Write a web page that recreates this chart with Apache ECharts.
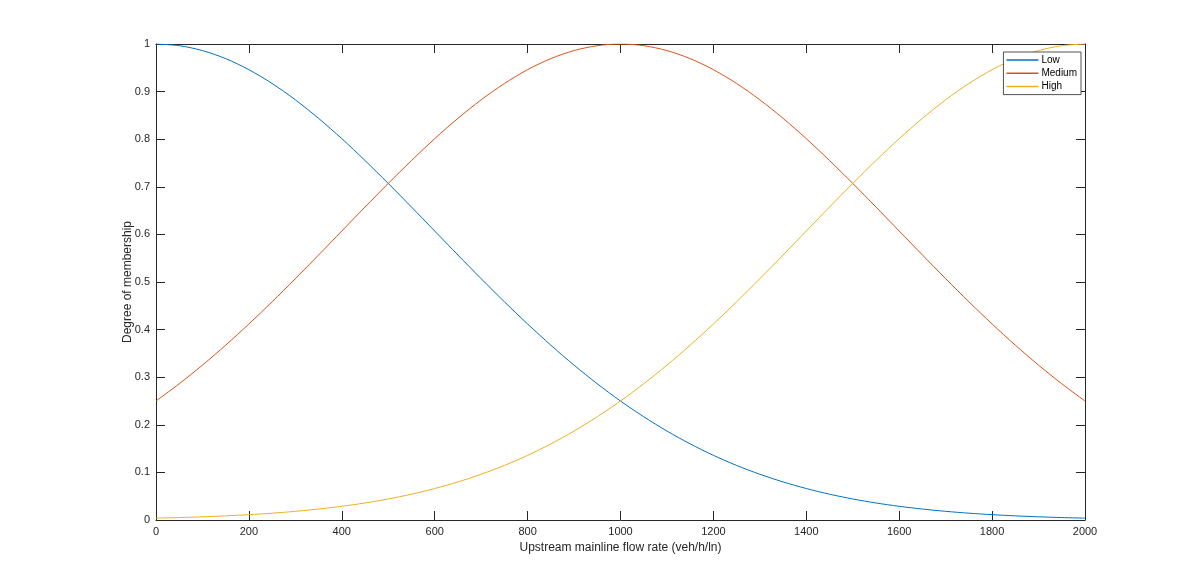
<!DOCTYPE html>
<html>
<head>
<meta charset="utf-8">
<script src="https://cdn.jsdelivr.net/npm/echarts@6/dist/echarts.min.js"></script>
<style>
html,body{margin:0;padding:0;background:#fff;}
#chart{width:1200px;height:584px;}
</style>
</head>
<body>
<div id="chart"></div>
<script>
var flowRate = [0,50,100,150,200,250,300,350,400,450,500,550,600,650,700,750,800,850,900,950,1000,
  1050,1100,1150,1200,1250,1300,1350,1400,1450,1500,1550,1600,1650,1700,1750,1800,1850,1900,1950,2000];
var lowValues = [1.0000,0.9965,0.9862,0.9693,0.9461,0.9170,0.8827,0.8438,0.8011,0.7552,0.7071,0.6575,0.6071,0.5567,0.5070,0.4585,0.4118,0.3673,0.3253,0.2862,0.2500,
  0.2169,0.1869,0.1599,0.1358,0.1146,0.0961,0.0800,0.0661,0.0542,0.0442,0.0358,0.0288,0.0230,0.0182,0.0143,0.0112,0.0087,0.0067,0.0051,0.0039];
var mediumValues = [0.2500,0.2862,0.3253,0.3673,0.4118,0.4585,0.5070,0.5567,0.6071,0.6575,0.7071,0.7552,0.8011,0.8438,0.8827,0.9170,0.9461,0.9693,0.9862,0.9965,1.0000,
  0.9965,0.9862,0.9693,0.9461,0.9170,0.8827,0.8438,0.8011,0.7552,0.7071,0.6575,0.6071,0.5567,0.5070,0.4585,0.4118,0.3673,0.3253,0.2862,0.2500];
var highValues = [0.0039,0.0051,0.0067,0.0087,0.0112,0.0143,0.0182,0.0230,0.0288,0.0358,0.0442,0.0542,0.0661,0.0800,0.0961,0.1146,0.1358,0.1599,0.1869,0.2169,0.2500,
  0.2862,0.3253,0.3673,0.4118,0.4585,0.5070,0.5567,0.6071,0.6575,0.7071,0.7552,0.8011,0.8438,0.8827,0.9170,0.9461,0.9693,0.9862,0.9965,1.0000];
var seriesNames = ['Low','Medium','High'];
var seriesColors = ['#0072BD','#D95319','#EDB120'];
var xTitle = 'Upstream mainline flow rate (veh/h/ln)';
var yTitle = 'Degree of membership';

function pairs(ys){ return flowRate.map(function(x,i){ return [x, ys[i]]; }); }
var allValues = [lowValues, mediumValues, highValues];

var axisCol = '#262626';
var font = 'Liberation Sans, Arial, Helvetica, sans-serif';

function xAx(pos, labels){
  return {
    type:'value', position:pos, min:0, max:2000, interval:200,
    name: labels ? xTitle : '', nameLocation:'middle', nameGap:22, nameMoveOverlap:false,
    nameTextStyle:{color:axisCol, fontSize:12, fontFamily:font},
    axisLine:{show:true, onZero:false, lineStyle:{color:axisCol, width:1}},
    axisTick:{show:true, inside:true, length:9, lineStyle:{color:axisCol, width:1}},
    axisLabel:{show:labels, color:axisCol, fontSize:11, fontFamily:font, margin:6,
      formatter:function(v){ return String(v); }},
    splitLine:{show:false}
  };
}
function yAx(pos, labels){
  return {
    type:'value', position:pos, min:0, max:1, interval:0.1,
    name: labels ? yTitle : '', nameLocation:'middle', nameGap:22, nameMoveOverlap:false,
    nameTextStyle:{color:axisCol, fontSize:12, fontFamily:font},
    axisLine:{show:true, onZero:false, lineStyle:{color:axisCol, width:1}},
    axisTick:{show:true, inside:true, length:9, lineStyle:{color:axisCol, width:1}},
    axisLabel:{show:labels, color:axisCol, fontSize:11, fontFamily:font, margin:6,
      formatter:function(v){ return String(Math.round(v*10)/10); }},
    splitLine:{show:false}
  };
}

var chart = echarts.init(document.getElementById('chart'), null, {renderer:'canvas'});
chart.setOption({
  animation:false,
  backgroundColor:'#ffffff',
  grid:{left:156, right:115, top:44, bottom:64, containLabel:false},
  xAxis:[xAx('bottom', true), xAx('top', false)],
  yAxis:[yAx('left', true), yAx('right', false)],
  legend:{
    right:119, top:52, orient:'vertical',
    data:seriesNames,
    icon:'rect', itemWidth:32, itemHeight:1.5, itemGap:3.3,
    textStyle:{color:'#000', fontSize:10, fontFamily:font, padding:[0,0,0,-2]},
    backgroundColor:'#ffffff', borderColor:axisCol, borderWidth:0.8,
    padding:[3,4,3,3]
  },
  series: seriesNames.map(function(n,i){
    return {
      name:n, type:'line', data:pairs(allValues[i]), smooth:0.3,
      showSymbol:false, symbol:'none', color:seriesColors[i],
      lineStyle:{width:1, color:seriesColors[i]}, xAxisIndex:0, yAxisIndex:0
    };
  })
});
</script>
</body>
</html>
